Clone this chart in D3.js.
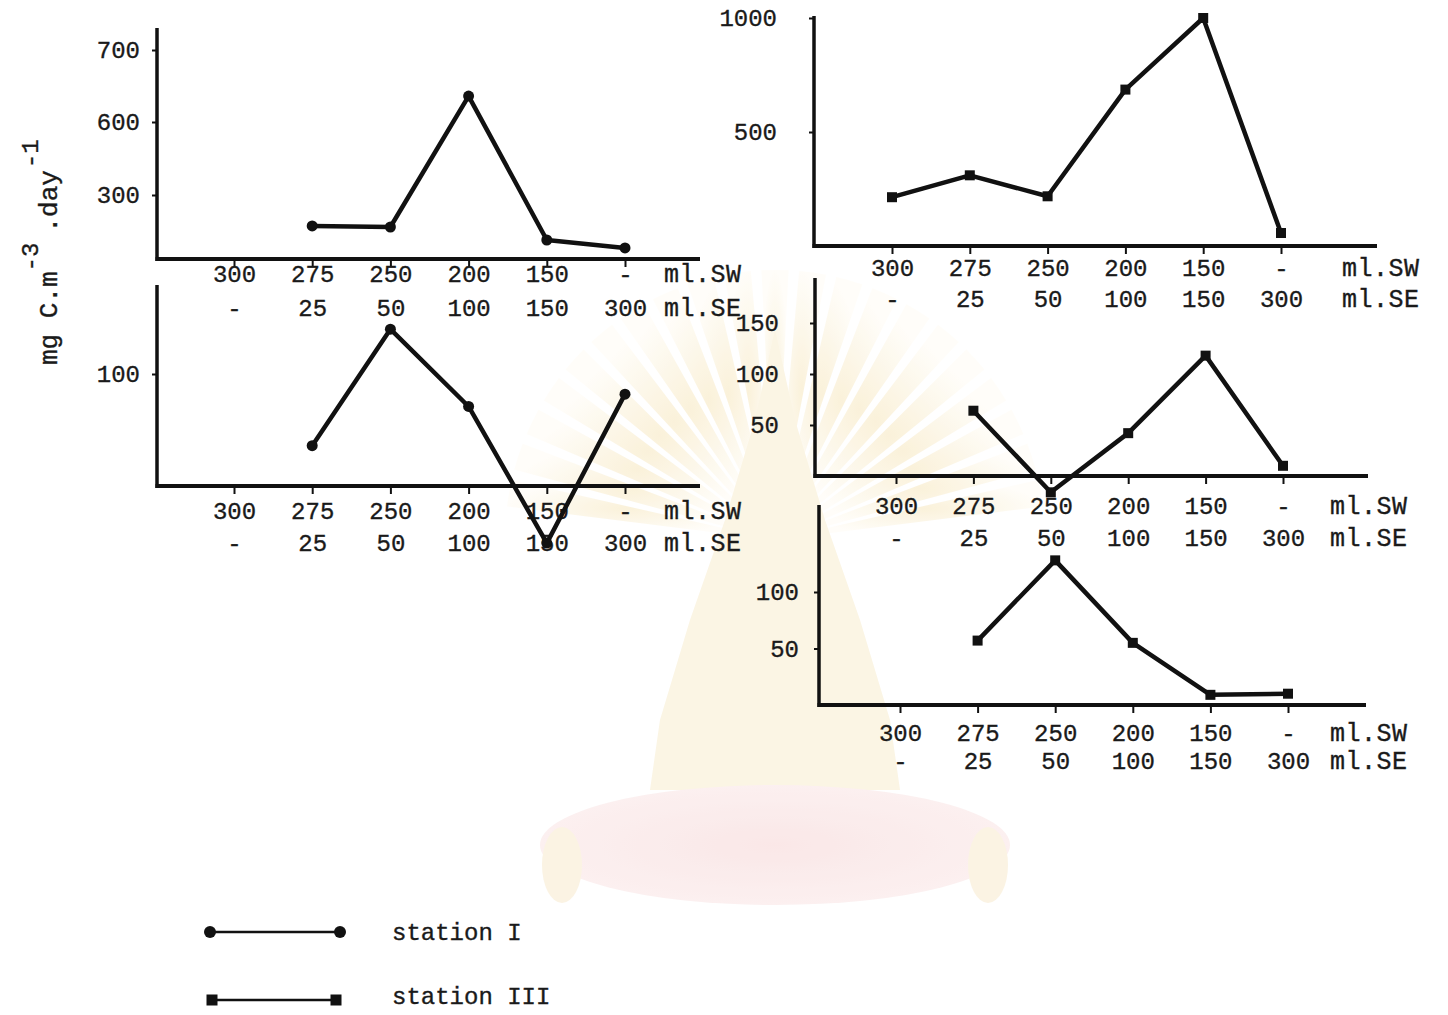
<!DOCTYPE html>
<html>
<head>
<meta charset="utf-8">
<script src="https://cdn.jsdelivr.net/npm/d3@7"></script>
<style>
  html, body { margin: 0; padding: 0; background: #fff; }
  svg { display: block; }
  text { font-family: "Liberation Mono", "DejaVu Sans Mono", monospace; fill: #1a1a1a;
         stroke: #1a1a1a; stroke-width: 0.35; }
</style>
</head>
<body>
<svg id="chart" width="1448" height="1015"></svg>
<script>
// Sampling depth categories: upper row is the SW monsoon, lower row the SE
const swLabels = ["300", "275", "250", "200", "150", "-"];
const seLabels = ["-", "25", "50", "100", "150", "300"];
const depthIndex = [0, 1, 2, 3, 4, 5];

// Primary production, mg C.m-3.day-1
const station1Upper = [null, 155, 150, 636, 89, 52];
const station1Lower = [null, 36, 140, 71, -51, 82];
const station3Upper = [214, 310, 218, 686, 1000, 57];
const station3Middle = [null, 64, -16, 42, 118, 10];
const station3Lower = [null, 57, 128, 55, 9, 10];

// Y tick values
const ticksA = [300, 600, 700];
const ticksB = [100];
const ticksC = [500, 1000];
const ticksD = [50, 100, 150];
const ticksE = [50, 100];

const legendLabels = ["station I", "station III"];

const svg = d3.select("#chart");
const NUM_FONT = 24;
const UNIT_FONT = 25;
const INK = "#111";

// faint emblem printed behind the figure
const defs = svg.append("defs");
const glow = defs.append("radialGradient").attr("id", "rayGlow");
glow.append("stop").attr("offset", "0%").attr("stop-color", "#f9eccb");
glow.append("stop").attr("offset", "100%").attr("stop-color", "#fffdf7");
const cushion = defs.append("radialGradient").attr("id", "cushionGlow");
cushion.append("stop").attr("offset", "0%").attr("stop-color", "#f8dede");
cushion.append("stop").attr("offset", "100%").attr("stop-color", "#fbeaea");

const emblem = svg.append("g").attr("opacity", 0.7);
const rayArc = d3.arc().innerRadius(30).outerRadius(270);
d3.range(-80, 82, 8).forEach(a => {
  const t = a * Math.PI / 180;
  emblem.append("path")
    .attr("transform", "translate(775,540)")
    .attr("d", rayArc({ startAngle: t - 0.05, endAngle: t + 0.05 }))
    .attr("fill", "url(#rayGlow)");
});
emblem.append("path")
  .attr("d", "M775,330 L795,420 L825,520 L860,620 L890,720 L900,790 L650,790 L660,720 L690,620 L725,520 L755,420 Z")
  .attr("fill", "#faf1d9");
emblem.append("ellipse").attr("cx", 775).attr("cy", 845).attr("rx", 235).attr("ry", 60)
  .attr("fill", "url(#cushionGlow)");
[562, 988].forEach(cx => emblem.append("ellipse")
  .attr("cx", cx).attr("cy", 865).attr("rx", 20).attr("ry", 38).attr("fill", "#faefd8"));

const panels = [
  { values: station1Upper, marker: "circle", ticks: ticksA,
    yDomain: [0, 300, 600, 700], yRange: [259, 195, 122, 50],
    axisX: 157, top: 28, right: 700, xRange: [234, 625],
    row1: 14, row2: 48, tickPad: 12, unitX: 664 },
  { values: station1Lower, marker: "circle", ticks: ticksB,
    yDomain: [0, 100], yRange: [486, 374],
    axisX: 157, top: 285, right: 700, xRange: [234, 625],
    row1: 24, row2: 56, tickPad: 12, unitX: 664 },
  { values: station3Upper, marker: "square", ticks: ticksC,
    yDomain: [0, 1000], yRange: [246, 18],
    axisX: 814, top: 16, right: 1377, xRange: [892, 1281],
    row1: 21, row2: 52, tickPad: 32, unitX: 1342 },
  { values: station3Middle, marker: "square", ticks: ticksD,
    yDomain: [0, 150], yRange: [476, 323],
    axisX: 815, top: 278, right: 1368, xRange: [896, 1283],
    row1: 29, row2: 61, tickPad: 31, unitX: 1330 },
  { values: station3Lower, marker: "square", ticks: ticksE,
    yDomain: [0, 100], yRange: [705, 592],
    axisX: 819, top: 505, right: 1366, xRange: [900, 1288],
    row1: 27, row2: 55, tickPad: 15, unitX: 1330 }
];

function drawMarker(g, kind, x, y, big) {
  if (kind === "circle") {
    g.append("circle").attr("cx", x).attr("cy", y).attr("r", big ? 6 : 5.5).attr("fill", INK);
  } else {
    const s = big ? 11 : 10;
    g.append("rect").attr("x", x - s / 2).attr("y", y - s / 2)
      .attr("width", s).attr("height", s).attr("fill", INK);
  }
}

panels.forEach(p => {
  const g = svg.append("g");
  const x = d3.scalePoint().domain(depthIndex).range(p.xRange);
  const y = d3.scaleLinear().domain(p.yDomain).range(p.yRange);
  const base = y(0);

  // vertical axis line and ticks
  g.append("line").attr("x1", p.axisX).attr("x2", p.axisX)
    .attr("y1", p.top).attr("y2", base + 2)
    .attr("stroke", INK).attr("stroke-width", 3.5);
  const yAxis = d3.axisLeft(y).tickValues(p.ticks).tickSize(5)
    .tickPadding(p.tickPad).tickFormat(d3.format("d"));
  const ya = g.append("g").attr("transform", `translate(${p.axisX},0)`).call(yAxis);
  ya.select(".domain").remove();
  ya.selectAll(".tick line").attr("stroke", INK).attr("stroke-width", 2);
  ya.selectAll(".tick text").attr("font-size", NUM_FONT).attr("font-family", null).attr("fill", INK);

  // horizontal axis line
  g.append("line").attr("x1", p.axisX - 1.5).attr("x2", p.right)
    .attr("y1", base).attr("y2", base)
    .attr("stroke", INK).attr("stroke-width", 4);
  const xAxis = d3.axisBottom(x).tickSize(8).tickSizeOuter(0)
    .tickFormat(i => swLabels[i]).tickPadding(p.row1 - 8);
  const xa = g.append("g").attr("transform", `translate(0,${base})`).call(xAxis);
  xa.select(".domain").remove();
  xa.selectAll(".tick line").attr("stroke", INK).attr("stroke-width", 2);
  xa.selectAll(".tick text").attr("font-size", NUM_FONT).attr("font-family", null)
    .attr("fill", INK).attr("dy", "0.36em");
  xa.selectAll(".tick").append("text")
    .attr("y", p.row2).attr("dy", "0.36em")
    .attr("font-size", NUM_FONT).attr("fill", INK).attr("text-anchor", "middle")
    .text(i => seLabels[i]);

  g.append("text").attr("x", p.unitX).attr("y", base + p.row1).attr("dy", "0.36em")
    .attr("font-size", UNIT_FONT).attr("letter-spacing", 0.5).text("ml.SW");
  g.append("text").attr("x", p.unitX).attr("y", base + p.row2).attr("dy", "0.36em")
    .attr("font-size", UNIT_FONT).attr("letter-spacing", 0.5).text("ml.SE");

  // data line and markers
  const pts = depthIndex.filter(i => p.values[i] != null)
    .map(i => [x(i), y(p.values[i])]);
  g.append("path").datum(pts)
    .attr("d", d3.line())
    .attr("fill", "none").attr("stroke", INK)
    .attr("stroke-width", 4.5).attr("stroke-linejoin", "round").attr("stroke-linecap", "round");
  pts.forEach(([px, py]) => drawMarker(g, p.marker, px, py, false));
});

// y-axis title, read bottom to top
const title = svg.append("text")
  .attr("transform", "translate(57,365) rotate(-90)")
  .attr("font-size", 26);
title.append("tspan").text("mg C.m");
title.append("tspan").attr("dy", -19).attr("font-size", 24).text("-3");
title.append("tspan").attr("dy", 19).attr("dx", 10).text(".day");
title.append("tspan").attr("dy", -19).attr("dx", 2).attr("font-size", 24).text("-1");

// legend
const legend = svg.append("g");
const legendRows = [
  { label: legendLabels[0], marker: "circle", x1: 210, x2: 340, y: 932 },
  { label: legendLabels[1], marker: "square", x1: 212, x2: 336, y: 1000 }
];
legendRows.forEach((r, i) => {
  legend.append("line").attr("x1", r.x1).attr("x2", r.x2).attr("y1", r.y).attr("y2", r.y)
    .attr("stroke", INK).attr("stroke-width", 2.5);
  drawMarker(legend, r.marker, r.x1, r.y, true);
  drawMarker(legend, r.marker, r.x2, r.y, true);
  legend.append("text").attr("x", 392).attr("y", i === 0 ? 931 : 995).attr("dy", "0.36em")
    .attr("font-size", 24).text(r.label);
});
</script>
</body>
</html>
